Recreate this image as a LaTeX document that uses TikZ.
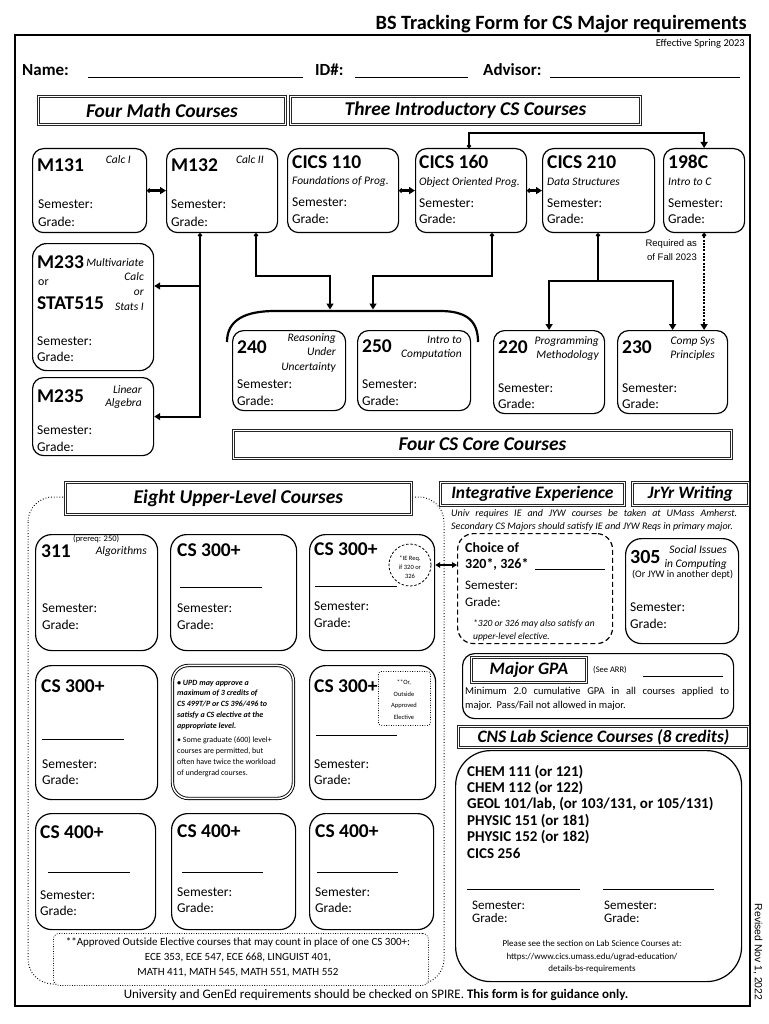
\documentclass[tikz,border=0pt]{standalone}
\usepackage{fontspec}
\setmainfont{Carlito}
\newfontfamily\arialf{Liberation Sans}
\usetikzlibrary{arrows.meta}
\newcommand\fsz[1]{\fontsize{#1}{#1}\selectfont}
\begin{document}
\begin{tikzpicture}[x=1pt,y=-1pt,
  cbox/.style={draw, line width=1.2pt, rounded corners=11pt, anchor=north west, inner sep=0pt},
  ub/.style={cbox, rounded corners=16pt},
  hdr/.style={draw=black!85, double, double distance=1.6pt, line width=0.9pt, anchor=north west, inner sep=0pt, font=\bfseries\itshape\fsz{19.5}},
  hdrs/.style={hdr, font=\bfseries\itshape\fsz{17.5}},
  code/.style={anchor=base west, inner sep=0pt, font=\bfseries\fsz{19.5}},
  sub/.style={anchor=base east, inner sep=0pt, font=\itshape\fsz{11.5}},
  subl/.style={anchor=base west, inner sep=0pt, font=\itshape\fsz{11.5}},
  sg/.style={anchor=base west, inner sep=0pt, font=\fsz{13.5}},
  txt/.style={anchor=base west, inner sep=0pt},
  ctxt/.style={anchor=base, inner sep=0pt},
  conn/.style={line width=2.2pt, arrows={Circle[length=4pt]-Triangle[length=6pt,width=7pt]}},
  tip/.style={line width=2.2pt, arrows={-Triangle[length=6pt,width=7pt]}},
  plain/.style={line width=2.2pt},
  uline/.style={line width=0.9pt},
  dotbox/.style={draw, line width=0.8pt, dash pattern=on 0.8pt off 1.6pt},
]
\useasboundingbox (0,0) rectangle (768,1024);
\fill[white] (0,0) rectangle (768,1024);

% title and frame
\node[anchor=base east, inner sep=0pt, font=\bfseries\fsz{20.3}] (title) at (747,30) {BS Tracking Form for CS Major requirements};
\draw[line width=1.8pt] (15,35) rectangle (750,1006);
\node[anchor=base east, inner sep=0pt, font=\fsz{10.5}] (eff) at (745,47) {Effective Spring 2023};
\node[anchor=center, rotate=-90, inner sep=0pt, font=\arialf\fsz{10.4}] (rev) at (758,952) {Revised Nov 1, 2022};

% name row
\node[txt, font=\bfseries\fsz{17}] (nm) at (22,76) {Name:};
\draw[uline] (88,77) -- (303,77);
\node[txt, font=\bfseries\fsz{17}] (idn) at (315,76) {ID\#:};
\draw[uline] (355,77) -- (468,77);
\node[txt, font=\bfseries\fsz{17}] (adv) at (483,76) {Advisor:};
\draw[uline] (550,77) -- (740,77);

% headers
\node[hdr, minimum width=247, minimum height=28] (hmath) at (38,96) {Four Math Courses};
\node[hdr, minimum width=350, minimum height=28] (hintro) at (290,96) {Three Introductory CS Courses};

% row 1
\node[cbox, minimum width=114, minimum height=84] (m131) at (32,148) {};
\node[cbox, minimum width=111, minimum height=84] (m132) at (166,148) {};
\node[cbox, minimum width=111, minimum height=84] (c110) at (287,148) {};
\node[cbox, minimum width=111, minimum height=84] (c160) at (415,148) {};
\node[cbox, minimum width=112, minimum height=84] (c210) at (542,148) {};
\node[cbox, minimum width=81, minimum height=84] (c198) at (663,148) {};

\node[code] (m131c) at (37,172) {M131};
\node[sub] (m131s) at (131,163.5) {Calc I};
\node[sg] (m131a) at (38,209) {Semester:};
\node[sg] (m131b) at (38,226) {Grade:};

\node[code] (m132c) at (171,172) {M132};
\node[sub] (m132s) at (264,163.5) {Calc II};
\node[sg] (m132a) at (171,209) {Semester:};
\node[sg] (m132b) at (171,226) {Grade:};

\node[code] (c110c) at (292,169) {CICS 110};
\node[subl] (c110s) at (292,185) {Foundations of Prog.};
\node[sg] (c110a) at (292,207) {Semester:};
\node[sg] (c110b) at (292,223) {Grade:};

\node[code] (c160c) at (419,169) {CICS 160};
\node[subl] (c160s) at (419,185.5) {Object Oriented Prog.};
\node[sg] (c160a) at (419,208) {Semester:};
\node[sg] (c160b) at (419,224) {Grade:};

\node[code] (c210c) at (547,169) {CICS 210};
\node[subl] (c210s) at (547,185.5) {Data Structures};
\node[sg] (c210a) at (547,208) {Semester:};
\node[sg] (c210b) at (547,224) {Grade:};

\node[code] (c198c) at (668,169) {198C};
\node[subl] (c198s) at (668,185.5) {Intro to C};
\node[sg] (c198a) at (668,208) {Semester:};
\node[sg] (c198b) at (668,224) {Grade:};

% math column
\node[cbox, rounded corners=14pt, minimum width=121, minimum height=127] (m233) at (32,243) {};
\node[code] (m233c) at (37,268) {M233};
\node[sub] (m233s1) at (144,266.5) {Multivariate};
\node[txt, font=\fsz{12}] (m233or) at (38,285) {or};
\node[sub] (m233s2) at (144,280.5) {Calc};
\node[sub] (m233s3) at (144,295.5) {or};
\node[code] (m233d) at (37,309) {STAT515};
\node[sub] (m233s4) at (144,310.5) {Stats I};
\node[sg] (m233a) at (37,345) {Semester:};
\node[sg] (m233b) at (37,361) {Grade:};

\node[cbox, minimum width=121, minimum height=78] (m235) at (32,377) {};
\node[code] (m235c) at (37,402) {M235};
\node[sub] (m235s1) at (142,393.5) {Linear};
\node[sub] (m235s2) at (142,406.5) {Algebra};
\node[sg] (m235a) at (37,434) {Semester:};
\node[sg] (m235b) at (37,451) {Grade:};

% core
\node[cbox, minimum width=113, minimum height=80] (c240) at (232,330) {};
\node[cbox, minimum width=113, minimum height=80] (c250) at (357,330) {};
\node[cbox, minimum width=111, minimum height=83] (c220) at (493,330) {};
\node[cbox, minimum width=110, minimum height=83] (c230) at (617,330) {};

\node[code] (c240c) at (237,353) {240};
\node[sub] (c240s1) at (336,341.5) {Reasoning};
\node[sub] (c240s2) at (336,355.5) {Under};
\node[sub] (c240s3) at (336,370.5) {Uncertainty};
\node[sg] (c240a) at (237,388) {Semester:};
\node[sg] (c240b) at (237,405) {Grade:};

\node[code] (c250c) at (362,352) {250};
\node[sub] (c250s1) at (462,343.5) {Intro to};
\node[sub] (c250s2) at (462,357.5) {Computation};
\node[sg] (c250a) at (362,388) {Semester:};
\node[sg] (c250b) at (362,405) {Grade:};

\node[code] (c220c) at (498,353) {220};
\node[sub] (c220s1) at (599,344.5) {Programming};
\node[sub] (c220s2) at (599,358.5) {Methodology};
\node[sg] (c220a) at (498,392) {Semester:};
\node[sg] (c220b) at (498,408) {Grade:};

\node[code] (c230c) at (622,353) {230};
\node[sub] (c230s1) at (715,344.5) {Comp Sys};
\node[sub] (c230s2) at (715,358.5) {Principles};
\node[sg] (c230a) at (622,392) {Semester:};
\node[sg] (c230b) at (622,408) {Grade:};

\node[hdr, minimum width=498, minimum height=28] (hcore) at (233,430) {Four CS Core Courses};

% bracket
\draw[plain] (227,342) .. controls (227,320) and (245,311) .. (275,311) -- (440,311) .. controls (468,311) and (478,322) .. (478,342);
\coordinate (arcL) at (330,309.5);
\coordinate (arcR) at (373,309.5);

% connectors
\draw[conn] (m131.east) -- (m132.west);
\draw[conn] (c110.east) -- (c160.west);
\draw[conn] (c160.east) -- (c210.west);
\draw[conn] ([xshift=54pt]c160.north west) -- ++(0,-15) -| (c198.north);
\draw[conn] ([xshift=34pt]m132.south west) |- (m235.east);
\coordinate (bm233) at (200,286);
\draw[tip] (bm233) -- (bm233 -| m233.east);
\draw[conn] ([xshift=90pt]m132.south west) -- ++(0,43) -| (arcL);
\draw[conn] ([xshift=77pt]c160.south west) -- ++(0,43) -| (arcR);
\draw[plain, arrows={Circle[length=4pt]-}] ([xshift=56pt]c210.south west) -- ++(0,48) coordinate (j210);
\draw[tip] (j210) -| (c220.north);
\draw[tip] (j210) -| (c230.north);
\draw[line width=2.2pt, dash pattern=on 2pt off 1.3pt, arrows={Circle[length=4pt]-Triangle[length=6pt,width=7pt]}] (c198.south) -- (c198.south |- c230.north);
\node[anchor=base east, inner sep=0pt, font=\arialf\fsz{9.5}] (req1) at (697,246) {Required as};
\node[anchor=base east, inner sep=0pt, font=\arialf\fsz{9.5}] (req2) at (697,260) {of Fall 2023};

% upper-level region
\draw[line width=1pt, dash pattern=on 0.8pt off 2pt, rounded corners=25pt] (28,497) rectangle (444,984);
\node[hdr, fill=white, minimum width=346, minimum height=32] (hupper) at (65,482) {Eight Upper-Level Courses};

\node[ub, minimum width=122, minimum height=116] (u311) at (35,534) {};
\node[ub, minimum width=126, minimum height=116] (u3a) at (170,534) {};
\node[ub, minimum width=125, minimum height=116] (u3b) at (309,534) {};
\node[ub, minimum width=122, minimum height=134] (u3c) at (35,665) {};
\node[ub, double, double distance=1.5pt, line width=0.9pt, minimum width=121, minimum height=133] (upd) at (172,665) {};
\node[ub, minimum width=126, minimum height=134] (u3d) at (309,665) {};
\node[ub, minimum width=120, minimum height=116] (u4a) at (35,813) {};
\node[ub, minimum width=124, minimum height=116] (u4b) at (171,813) {};
\node[ub, minimum width=124, minimum height=116] (u4c) at (309,813) {};

\node[code] (u311c) at (41,557) {311};
\node[txt, font=\fsz{8.5}] (u311p) at (73,541) {(prereq: 250)};
\node[sub] (u311s) at (147,554) {Algorithms};
\node[sg] (u311a) at (42,612) {Semester:};
\node[sg] (u311b) at (42,629) {Grade:};

\node[code] (u3ac) at (177,556) {CS 300+};
\draw[uline] (180,587) -- (262,587);
\node[sg] (u3aa) at (177,612) {Semester:};
\node[sg] (u3ab) at (177,629) {Grade:};

\node[code] (u3bc) at (314,555) {CS 300+};
\draw[uline] (315,586) -- (397,586);
\node[sg] (u3ba) at (314,610) {Semester:};
\node[sg] (u3bb) at (314,627) {Grade:};
\node[draw, circle, fill=white, line width=0.8pt, dash pattern=on 2.5pt off 1.8pt, minimum size=42, inner sep=0pt] (iec) at (410,565) {};
\node[ctxt, font=\fsz{6.5}] (iet1) at (410,560) {*IE Req.};
\node[ctxt, font=\fsz{6.5}] (iet2) at (410,569) {if 320 or};
\node[ctxt, font=\fsz{6.5}] (iet3) at (410,578) {326};

\node[code] (u3cc) at (41,692) {CS 300+};
\draw[uline] (42,739) -- (124,739);
\node[sg] (u3ca) at (42,768) {Semester:};
\node[sg] (u3cb) at (42,784) {Grade:};

\node[txt, font=\bfseries\itshape\fsz{8}] (upd1) at (177,685) {• UPD may approve a};
\node[txt, font=\bfseries\itshape\fsz{8}] (upd2) at (177,695.5) {maximum of 3 credits of};
\node[txt, font=\bfseries\itshape\fsz{8}] (upd3) at (177,706) {CS 499T/P or CS 396/496 to};
\node[txt, font=\bfseries\itshape\fsz{8}] (upd4) at (177,717) {satisfy a CS elective at the};
\node[txt, font=\bfseries\itshape\fsz{8}] (upd5) at (177,728) {appropriate level.};
\node[txt, font=\fsz{8}] (upd6) at (177,742) {• Some graduate (600) level+};
\node[txt, font=\fsz{8}] (upd7) at (177,753) {courses are permitted, but};
\node[txt, font=\fsz{8}] (upd8) at (177,764) {often have twice the workload};
\node[txt, font=\fsz{8}] (upd9) at (177,775) {of undergrad courses.};

\node[code] (u3dc) at (314,692) {CS 300+};
\node[dotbox, rounded corners=3pt, anchor=north west, minimum width=52, minimum height=54, inner sep=0pt] (orbox) at (378,671) {};
\node[ctxt, font=\fsz{6.5}] (or1) at (404,684) {**Or,};
\node[ctxt, font=\fsz{6.5}] (or2) at (404,696) {Outside};
\node[ctxt, font=\fsz{6.5}] (or3) at (404,707) {Approved};
\node[ctxt, font=\fsz{6.5}] (or4) at (404,719) {Elective};
\draw[uline] (316,735) -- (397,735);
\node[sg] (u3da) at (314,768) {Semester:};
\node[sg] (u3db) at (314,784) {Grade:};

\node[code] (u4ac) at (40,838) {CS 400+};
\draw[uline] (48,872) -- (130,872);
\node[sg] (u4aa) at (40,899) {Semester:};
\node[sg] (u4ab) at (40,915) {Grade:};
\node[code] (u4bc) at (177,837) {CS 400+};
\draw[uline] (182,872) -- (263,872);
\node[sg] (u4ba) at (177,896) {Semester:};
\node[sg] (u4bb) at (177,912) {Grade:};
\node[code] (u4cc) at (315,837) {CS 400+};
\draw[uline] (317,872) -- (398,872);
\node[sg] (u4ca) at (315,896) {Semester:};
\node[sg] (u4cb) at (315,912) {Grade:};

\node[dotbox, fill=white, rounded corners=6pt, anchor=north west, minimum width=375, minimum height=52, inner sep=0pt] (appr) at (53,933) {};
\node[ctxt, font=\fsz{11}] (appr1) at (238,945.5) {**Approved Outside Elective courses that may count in place of one CS 300+:};
\node[ctxt, font=\fsz{11}] (appr2) at (238,960.5) {ECE 353, ECE 547, ECE 668, LINGUIST 401,};
\node[ctxt, font=\fsz{11}] (appr3) at (238,975) {MATH 411, MATH 545, MATH 551, MATH 552};

% right column
\node[hdrs, fill=white, minimum width=184, minimum height=23] (hie) at (440,482) {Integrative Experience};
\node[hdrs, minimum width=116, minimum height=23] (hjyw) at (632,482) {JrYr Writing};
\node[txt, font=\itshape\fsz{10}] (ien1) at (451,516.5) {\makebox[286pt][s]{Univ requires IE and JYW courses be taken at UMass Amherst.}};
\node[txt, font=\itshape\fsz{10}] (ien2) at (451,529.5) {Secondary CS Majors should satisfy IE and JYW Reqs in primary major.};

\node[cbox, dash pattern=on 5pt off 3pt, rounded corners=16pt, minimum width=155, minimum height=110] (choice) at (457,533) {};
\node[txt, font=\bfseries\fsz{14}] (ch1) at (465,552) {Choice of};
\node[txt, font=\bfseries\fsz{14}] (ch2) at (465,568) {320*, 326*};
\draw[uline] (535,569) -- (605,569);
\node[txt, font=\fsz{13}] (cha) at (465,589) {Semester:};
\node[txt, font=\fsz{13}] (chb) at (465,606) {Grade:};
\node[txt, font=\itshape\fsz{9.5}] (chn1) at (473,626) {*320 or 326 may also satisfy an};
\node[txt, font=\itshape\fsz{9.5}] (chn2) at (473,639) {upper-level elective.};
\draw[line width=1.6pt, arrows={Triangle[length=5pt,width=5.5pt]-Triangle[length=5pt,width=5.5pt]}] (u3b.east |- iec) -- (choice.west |- iec);

\node[cbox, rounded corners=16pt, minimum width=113, minimum height=105] (c305) at (625,538) {};
\node[code, font=\bfseries\fsz{20}] (c305c) at (630,563) {305};
\node[sub] (c305s1) at (727,553.5) {Social Issues};
\node[sub] (c305s2) at (727,567.5) {in Computing};
\node[txt, font=\fsz{10}] (c305s3) at (632,577) {(Or JYW in another dept)};
\node[sg] (c305a) at (630,611) {Semester:};
\node[sg] (c305b) at (630,628) {Grade:};

\node[cbox, rounded corners=12pt, minimum width=271, minimum height=65] (gpa) at (462,653) {};
\node[hdrs, minimum width=115, minimum height=25] (hgpa) at (471,657) {Major GPA};
\node[txt, font=\fsz{8.5}] (arr) at (593,672) {(See ARR)};
\draw[uline] (643,676) -- (723,676);
\node[txt, font=\fsz{10.5}] (gpa1) at (465,694) {\makebox[264pt][s]{Minimum 2.0 cumulative GPA in all courses applied to}};
\node[txt, font=\fsz{10.5}] (gpa2) at (465,708) {major.\ \ Pass/Fail not allowed in major.};

\node[hdrs, minimum width=290, minimum height=21] (hcns) at (458,726) {CNS Lab Science Courses (8 credits)};
\node[cbox, rounded corners=35pt, minimum width=286, minimum height=231] (cns) at (455,750) {};
\node[txt, font=\bfseries\fsz{15}] (l1) at (467,776) {CHEM 111 (or 121)};
\node[txt, font=\bfseries\fsz{15}] (l2) at (467,792.4) {CHEM 112 (or 122)};
\node[txt, font=\bfseries\fsz{15}] (l3) at (467,808.8) {GEOL 101/lab, (or 103/131, or 105/131)};
\node[txt, font=\bfseries\fsz{15}] (l4) at (467,825.2) {PHYSIC 151 (or 181)};
\node[txt, font=\bfseries\fsz{15}] (l5) at (467,841.6) {PHYSIC 152 (or 182)};
\node[txt, font=\bfseries\fsz{15}] (l6) at (467,858) {CICS 256};
\draw[uline] (467,889) -- (580,889);
\draw[uline] (603,889) -- (714,889);
\node[txt, font=\fsz{13}] (cnsa1) at (472,909) {Semester:};
\node[txt, font=\fsz{13}] (cnsb1) at (472,922) {Grade:};
\node[txt, font=\fsz{13}] (cnsa2) at (604,909) {Semester:};
\node[txt, font=\fsz{13}] (cnsb2) at (604,922) {Grade:};
\node[ctxt, font=\fsz{9}] (pl1) at (592,946) {Please see the section on Lab Science Courses at:};
\node[ctxt, font=\fsz{9}] (pl2) at (592,959) {https://www.cics.umass.edu/ugrad-education/};
\node[ctxt, font=\fsz{9}] (pl3) at (592,971) {details-bs-requirements};

\node[ctxt, font=\fsz{13}] (foot) at (376,998) {University and GenEd requirements should be checked on SPIRE. \textbf{This form is for guidance only.}};
\end{tikzpicture}
\end{document}
